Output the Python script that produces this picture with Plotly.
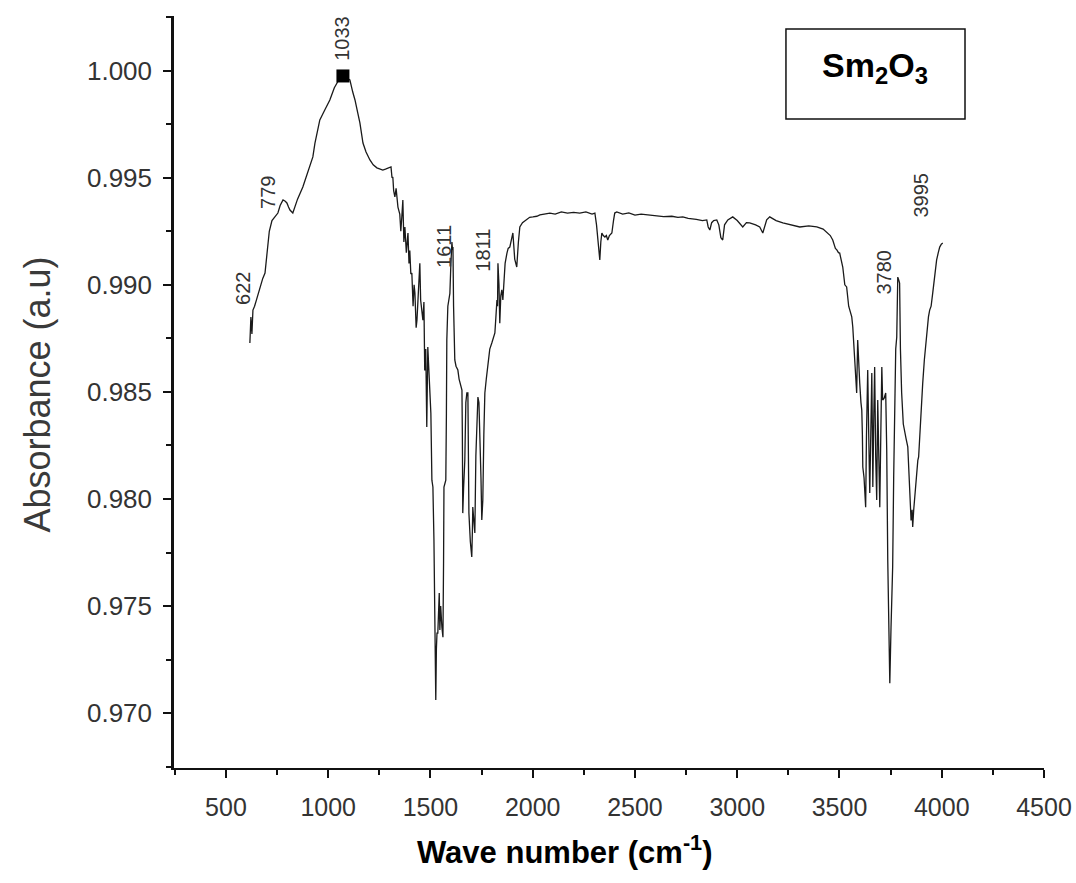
import plotly.graph_objects as go

# ---------------- data ----------------
wn1 = [617, 622, 627, 632, 640, 655, 666, 680, 691, 700, 712, 725, 740, 754, 765, 779, 790, 798, 806, 813,
       827, 850, 876, 900, 925, 935, 945, 959, 985, 1008, 1030, 1043, 1060, 1072, 1090, 1106, 1120, 1131, 1145, 1155,
       1170, 1185, 1204, 1220, 1238, 1252, 1267, 1280, 1292, 1307, 1312, 1316, 1320, 1326, 1332, 1341, 1350, 1355,
       1360, 1365, 1370, 1375, 1382, 1390, 1395, 1399]
ab1 = [0.98728, 0.98850, 0.98770, 0.98882, 0.98900, 0.98950, 0.98990, 0.99030, 0.99055, 0.99150, 0.99250, 0.99300,
       0.99317, 0.99335, 0.99370, 0.99396, 0.99390, 0.99382, 0.99363, 0.99349, 0.99335, 0.99400, 0.99457, 0.99530,
       0.99597, 0.99660, 0.99709, 0.99770, 0.99820, 0.99863, 0.99920, 0.99943, 0.99970, 0.99975, 0.99965, 0.99957,
       0.99900, 0.99863, 0.99800, 0.99756, 0.99662, 0.99620, 0.99583, 0.99560, 0.99546, 0.99540, 0.99536, 0.99540,
       0.99546, 0.99550, 0.99500, 0.99503, 0.99440, 0.99410, 0.99450, 0.99363, 0.99330, 0.99250, 0.99317, 0.99396,
       0.99200, 0.99270, 0.99150, 0.99242, 0.99100, 0.99160]

wn2 = [1404, 1409, 1415, 1420, 1424, 1430, 1434, 1440, 1448, 1452, 1458, 1463, 1468, 1472, 1477, 1482, 1487, 1492,
       1497, 1502, 1507, 1512, 1517, 1520, 1522, 1524, 1526, 1529, 1532, 1536, 1540, 1543, 1546, 1550, 1556, 1561,
       1564, 1566, 1570, 1575, 1578, 1580, 1585, 1590, 1595, 1600, 1605, 1608, 1610, 1613, 1616, 1619, 1625, 1634,
       1640, 1648, 1654, 1656, 1658, 1662, 1668, 1673, 1678, 1683, 1686, 1688, 1695, 1702, 1705, 1707, 1712, 1717,
       1722, 1727, 1732, 1737, 1742, 1747, 1751, 1756, 1761, 1766, 1773, 1781, 1790, 1800, 1808, 1815, 1820, 1825,
       1828, 1830, 1835, 1839, 1844, 1849, 1854, 1858, 1865, 1874, 1880, 1888, 1895, 1903, 1912, 1922, 1930, 1937,
       1950, 1971, 1985]
ab2 = [0.99050, 0.99055, 0.98900, 0.99000, 0.98962, 0.98800, 0.98835, 0.98950, 0.99100, 0.98929, 0.98860, 0.98835,
       0.98920, 0.98600, 0.98700, 0.98336, 0.98709, 0.98600, 0.98509, 0.98400, 0.98088, 0.98056, 0.97808, 0.97589,
       0.97500, 0.97201, 0.97061, 0.97300, 0.97374, 0.97374, 0.97500, 0.97561, 0.97388, 0.97500, 0.97400, 0.97355,
       0.97700, 0.98056, 0.98070, 0.98088, 0.98400, 0.98742, 0.98900, 0.98929, 0.98960, 0.99100, 0.99200, 0.99163,
       0.99176, 0.98900, 0.98700, 0.98649, 0.98620, 0.98602, 0.98560, 0.98530, 0.98509, 0.98300, 0.97934, 0.98050,
       0.98182, 0.98450, 0.98495, 0.98495, 0.98200, 0.97934, 0.97800, 0.97729, 0.97850, 0.97962, 0.97900, 0.97841,
       0.98200, 0.98401, 0.98476, 0.98450, 0.98308, 0.98100, 0.97902, 0.97995, 0.98300, 0.98495, 0.98560, 0.98616,
       0.98700, 0.98728, 0.98760, 0.98775, 0.98850, 0.98929, 0.98900, 0.99101, 0.99000, 0.98821, 0.98950, 0.98976,
       0.98929, 0.99000, 0.99100, 0.99148, 0.99170, 0.99176, 0.99210, 0.99242, 0.99120, 0.99083, 0.99200, 0.99270,
       0.99290, 0.99303, 0.99315]

wn3 = [2001, 2020, 2035, 2060, 2084, 2110, 2140, 2170, 2200, 2230, 2260, 2290, 2304, 2312, 2318, 2323, 2328, 2333,
       2338, 2345, 2353, 2360, 2367, 2375, 2387, 2395, 2401, 2411, 2440, 2470, 2500, 2530, 2573, 2600, 2640, 2680,
       2710, 2734, 2760, 2800, 2830, 2851, 2858, 2866, 2875, 2885, 2900, 2910, 2920, 2929, 2938, 2954, 2978, 3000,
       3027, 3045, 3061, 3090, 3110, 3125, 3135, 3144, 3159, 3190, 3223, 3260, 3306, 3350, 3389, 3420, 3438, 3455,
       3467, 3480, 3487, 3495]
ab3 = [0.99317, 0.99320, 0.99326, 0.99330, 0.99335, 0.99330, 0.99340, 0.99335, 0.99338, 0.99335, 0.99340, 0.99330,
       0.99335, 0.99280, 0.99209, 0.99150, 0.99116, 0.99200, 0.99242, 0.99230, 0.99223, 0.99230, 0.99209, 0.99230,
       0.99242, 0.99300, 0.99335, 0.99340, 0.99330, 0.99336, 0.99325, 0.99330, 0.99326, 0.99322, 0.99318, 0.99320,
       0.99315, 0.99317, 0.99310, 0.99305, 0.99300, 0.99303, 0.99270, 0.99256, 0.99290, 0.99300, 0.99303, 0.99280,
       0.99220, 0.99209, 0.99280, 0.99303, 0.99317, 0.99300, 0.99270, 0.99290, 0.99289, 0.99280, 0.99270, 0.99242,
       0.99280, 0.99303, 0.99317, 0.99300, 0.99289, 0.99280, 0.99270, 0.99275, 0.99270, 0.99260, 0.99242, 0.99230,
       0.99209, 0.99170, 0.99163, 0.99150]

wn4 = [3501, 3510, 3516, 3526, 3535, 3545, 3550, 3560, 3565, 3572, 3578, 3584, 3589, 3594, 3599, 3605, 3609, 3612,
       3614, 3620, 3624, 3628, 3632, 3638, 3643, 3648, 3653, 3658, 3661, 3663, 3668, 3672, 3677, 3682, 3687, 3692,
       3697, 3702, 3707, 3711, 3718, 3726, 3731, 3736, 3741, 3746, 3752, 3760, 3765, 3770, 3775, 3780, 3785, 3790,
       3794, 3798, 3804, 3812, 3819, 3826, 3834, 3838, 3843, 3850, 3855, 3858, 3863, 3868, 3873, 3878, 3883, 3887,
       3895, 3902, 3907, 3915, 3926, 3935, 3941, 3948, 3956, 3965, 3975, 3983, 3990, 3998, 4005]
ab4 = [0.99148, 0.99100, 0.99083, 0.99000, 0.98990, 0.98900, 0.98882, 0.98850, 0.98803, 0.98700, 0.98600, 0.98495,
       0.98742, 0.98600, 0.98541, 0.98450, 0.98415, 0.98300, 0.98149, 0.98100, 0.98000, 0.97962, 0.98300, 0.98602,
       0.98300, 0.98028, 0.98300, 0.98588, 0.98300, 0.98056, 0.98400, 0.98616, 0.98200, 0.97995, 0.98462, 0.98200,
       0.97962, 0.98300, 0.98616, 0.98462, 0.98470, 0.98495, 0.98228, 0.97715, 0.97400, 0.97140, 0.97400, 0.97682,
       0.98100, 0.98336, 0.98700, 0.98756, 0.99036, 0.99022, 0.99008, 0.98700, 0.98495, 0.98350, 0.98308, 0.98280,
       0.98243, 0.98150, 0.98042, 0.97900, 0.97950, 0.97869, 0.97950, 0.98009, 0.98080, 0.98121, 0.98180, 0.98196,
       0.98350, 0.98462, 0.98541, 0.98650, 0.98775, 0.98850, 0.98882, 0.98900, 0.98962, 0.99050, 0.99116, 0.99150,
       0.99176, 0.99190, 0.99195]

# marked maximum
peak_marker_x = [1072]
peak_marker_y = [0.99975]

# peak labels (text, x position, y position in data units)
peak_labels = ["622", "779", "1033", "1611", "1811", "3780", "3995"]
peak_label_x = [583, 705, 1067, 1566, 1756, 3716, 3897]
peak_label_y = [0.98985, 0.99433, 1.00153, 0.99181, 0.99163, 0.99060, 0.99420]

x_ticks = [500, 1000, 1500, 2000, 2500, 3000, 3500, 4000, 4500]
y_ticks = [0.970, 0.975, 0.980, 0.985, 0.990, 0.995, 1.000]

wavenumber = wn1 + wn2 + wn3 + wn4
absorbance = ab1 + ab2 + ab3 + ab4
assert len(wavenumber) == len(absorbance)

FONT = "Arial, 'Liberation Sans', sans-serif"

fig = go.Figure()
fig.add_trace(go.Scatter(x=wavenumber, y=absorbance, mode="lines",
                         line=dict(color="#1a1a1a", width=1.3), showlegend=False))
fig.add_trace(go.Scatter(x=peak_marker_x, y=peak_marker_y, mode="markers",
                         marker=dict(symbol="square", size=13, color="#000000"), showlegend=False))

for t, x, y in zip(peak_labels, peak_label_x, peak_label_y):
    fig.add_annotation(x=x, y=y, xref="x", yref="y", text=t, textangle=-90, showarrow=False,
                       xanchor="center", yanchor="middle",
                       font=dict(family=FONT, size=20, color="#333333"))

# Sm2O3 label box
fig.add_shape(type="rect", xref="paper", yref="paper", x0=0.7034, x1=0.9092, y0=0.8630, y1=0.9827,
              line=dict(color="#111111", width=1.5), fillcolor="white")
fig.add_annotation(xref="paper", yref="paper", x=0.806, y=0.932, showarrow=False,
                   text="<b>Sm<sub>2</sub>O<sub>3</sub></b>",
                   font=dict(family=FONT, size=34, color="#000000"), xanchor="center", yanchor="middle")

# axis titles
fig.add_annotation(xref="paper", yref="paper", x=-0.158, y=0.496, showarrow=False,
                   text="Absorbance (a.u)", textangle=-90,
                   font=dict(family=FONT, size=36, color="#3a3a3a"), xanchor="center", yanchor="middle")
fig.add_annotation(xref="paper", yref="paper", x=0.4494, y=-0.109, showarrow=False,
                   text="<b>Wave number (cm<sup>-1</sup>)</b>",
                   font=dict(family=FONT, size=31, color="#000000"), xanchor="center", yanchor="middle")

fig.update_layout(
    width=1076, height=883,
    margin=dict(l=174, r=32, t=16, b=115, autoexpand=False),
    plot_bgcolor="white", paper_bgcolor="white",
    showlegend=False,
    xaxis=dict(range=[246, 4500], tickvals=x_ticks, ticktext=[str(v) for v in x_ticks],
               automargin=False,
               showgrid=False, zeroline=False, showline=True, linecolor="#111111", linewidth=2,
               ticks="outside", ticklen=8, tickwidth=2, tickcolor="#111111",
               ticklabelstandoff=8,
               minor=dict(dtick=250, tick0=0, ticks="outside", ticklen=5, tickwidth=1.5, tickcolor="#111111",
                          showgrid=False),
               tickfont=dict(family=FONT, size=25, color="#333333")),
    yaxis=dict(range=[0.96744, 1.00255], tickvals=y_ticks, ticktext=["%.3f" % v for v in y_ticks],
               automargin=False,
               showgrid=False, zeroline=False, showline=True, linecolor="#111111", linewidth=2.5,
               ticks="outside", ticklen=8, tickwidth=2, tickcolor="#111111",
               ticklabelstandoff=6,
               minor=dict(dtick=0.0025, tick0=0.97, ticks="outside", ticklen=5, tickwidth=1.5,
                          tickcolor="#111111", showgrid=False),
               tickfont=dict(family=FONT, size=26, color="#333333")),
)

fig.write_html("out.html")
